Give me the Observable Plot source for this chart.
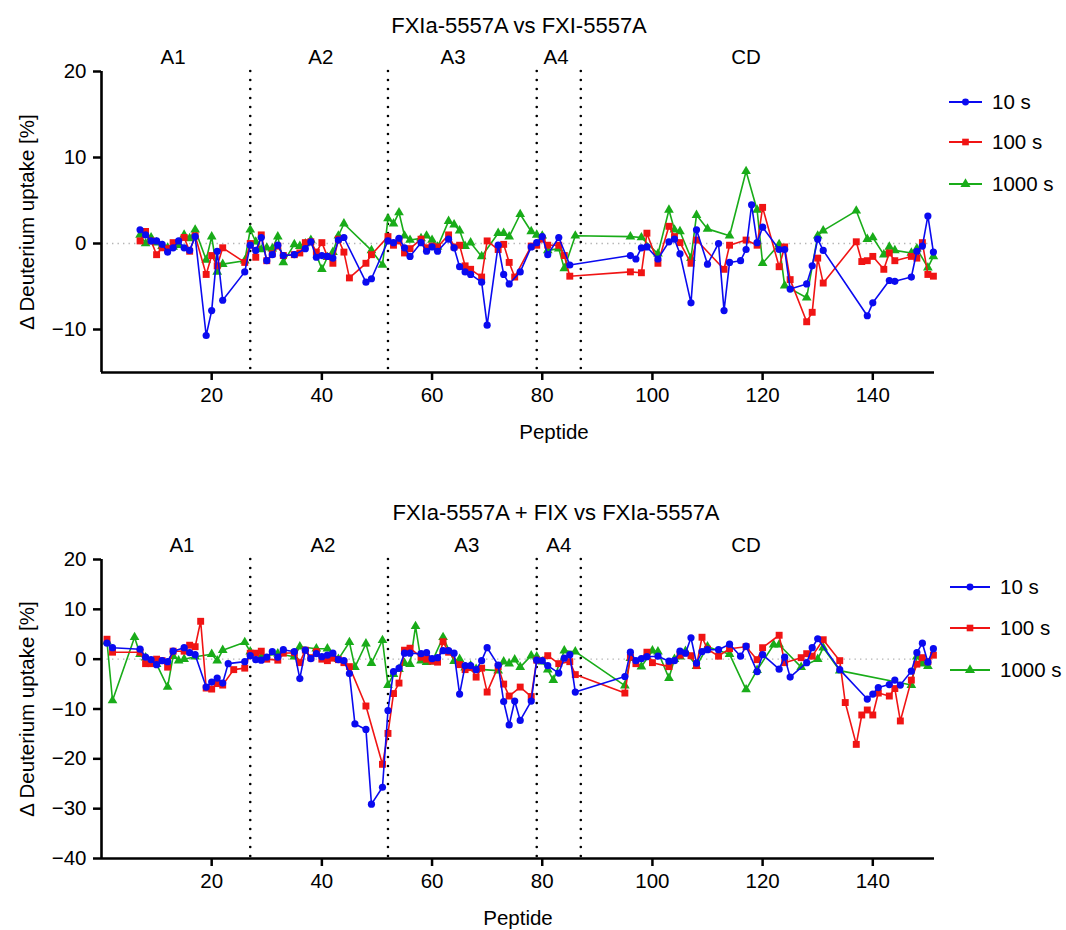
<!DOCTYPE html>
<html>
<head>
<meta charset="utf-8">
<script src="https://cdn.jsdelivr.net/npm/d3@7"></script>
<script src="https://cdn.jsdelivr.net/npm/@observablehq/plot@0.6"></script>
<style>
  html, body { margin: 0; padding: 0; background: #fff; }
  #chart { width: 1066px; height: 930px; position: relative; }
  #chart svg { display: block; }
  svg g[aria-label^="x-axis"] line, svg g[aria-label^="x-axis"] path,
  svg g[aria-label^="y-axis"] line, svg g[aria-label^="y-axis"] path { stroke-width: 2.5px; }
</style>
</head>
<body>
<div id="chart"></div>
<script>
// ---------- data ----------
const seriesLabels = ["10 s", "100 s", "1000 s"];
const seriesColors = ["#0a0af0", "#f01414", "#19ac19"];
const regionNames = ["A1", "A2", "A3", "A4", "CD"];
const regionBounds = [27, 52, 79, 87];
const topRegionX = [13, 39.8, 63.8, 82.5, 117];
const botRegionX = [14.6, 40.2, 66.3, 83, 117];
const xTicks = [20, 40, 60, 80, 100, 120, 140];
const topYTicks = [-10, 0, 10, 20];
const botYTicks = [-40, -30, -20, -10, 0, 10, 20];
const topTitle = "FXIa-5557A vs FXI-5557A";
const botTitle = "FXIa-5557A + FIX vs FXIa-5557A";
const xTitle = "Peptide";
const yTitle = "Δ Deuterium uptake [%]";

const topPeptide = [
  7, 8, 9, 10, 11, 12, 13, 14, 15, 16, 17,
  19, 20, 21, 22,
  26, 27, 28, 29, 30, 31, 32, 33,
  35, 36, 37, 38, 39, 40, 41, 42, 43, 44, 45,
  48, 49,
  51, 52, 53, 54, 55, 56,
  58, 59, 60, 61,
  63, 64, 65, 66, 67,
  69, 70,
  72, 73, 74, 75, 76,
  78, 79, 80, 81,
  83, 84, 85, 86,
  96, 97, 98, 99,
  101,
  103, 104, 105,
  107, 108,
  110,
  112, 113, 114,
  116, 117, 118, 119, 120,
  123, 124, 125,
  128, 129, 130, 131,
  137, 138, 139, 140,
  142, 143, 144,
  147, 148, 149, 150, 151
];
const top10 = [
  1.6, 1.0, 0.3, 0.3, -0.1, -1.0, -0.5, 0.3, -0.5, -0.8, 0.8,
  -10.7, -7.8, -0.9, -6.6,
  -3.3, -0.2, -0.8, 0.7, -2.0, -1.3, -0.2, -1.4,
  -1.3, null, -0.6, 0.2, -1.6, -1.4, -1.5, -1.7, 0.4, 0.7, null,
  -4.5, -4.1,
  null, 0.3, 0.1, 0.6, -0.5, -1.5,
  0.1, -0.9, -0.4, -0.9,
  0.5, -0.5, -2.7, -3.3, -3.6,
  -4.5, -9.5,
  -0.2, -3.6, -4.7, null, -3.3,
  -0.4, 0.1, 0.8, -1.3,
  0.7, null, -2.5, null,
  -1.4, -1.8, -0.5, -0.4,
  -1.8,
  0.2, 0.5, -1.2,
  -6.9, 1.6,
  -2.4,
  0.0, -7.8, -2.2,
  -2.0, -0.7, 4.5, 0.1, 1.9,
  -0.7, -0.7, -5.3,
  -4.7, -2.6, 0.5, -0.8,
  null, null, -8.4, -6.9,
  null, -4.3, -4.4,
  -3.9, -0.9, -0.3, 3.2, -1.0
];
const top100 = [
  0.3, 1.4, 0.3, -1.3, -0.5, -0.6, 0.1, null, 0.7, -0.9, 0.9,
  -3.6, -1.4, -2.6, -0.5,
  -2.2, 0.0, -1.6, 1.0, -2.0, -1.2, -0.3, -1.4,
  -1.3, -1.1, 0.1, 0.2, -1.0, 0.1, -1.5, -2.3, 0.5, -1.0, -4.0,
  -2.3, -1.3,
  null, 0.8, -0.2, 0.3, -1.1, -0.6,
  0.5, -0.5, -0.3, -0.4,
  1.0, -0.4, -0.2, -2.6, -3.0,
  -3.9, 0.3,
  -0.7, -0.1, -2.2, -3.9, null,
  -0.3, -0.2, 0.5, -0.2,
  -0.2, -1.4, -3.8, null,
  -3.3, null, -3.4, 1.2,
  -2.3,
  2.0, 0.8, 0.1,
  -2.3, 0.4,
  null,
  null, -3.0, -0.2,
  null, 0.4, null, -0.2, 4.2,
  -2.7, -0.4, -4.2,
  -9.1, -8.0, -1.7, -4.6,
  0.2, -2.1, -2.0, -1.5,
  -3.0, -1.1, -2.0,
  -1.5, -1.7, 0.1, -3.6, -3.8
];
const top1000 = [
  1.0, 0.0, 0.7, 0.1, -0.3, -0.5, -0.4, -0.2, 1.0, 0.6, 1.6,
  -1.9, 0.8, -3.3, -2.4,
  -2.0, 1.6, 0.2, -0.7, -0.5, -0.6, 0.8, -2.2,
  -0.1, -0.3, 0.0, 0.4, null, -3.0, -1.6, -1.0, 0.9, 2.3, null,
  null, -0.8,
  -2.5, 2.9, 2.3, 3.6, 0.9, 0.4,
  0.6, 0.9, 0.4, -0.4,
  2.6, 2.2, 1.5, -0.3, 0.1,
  -1.5, null,
  1.2, 1.2, 0.8, null, 3.4,
  1.4, 1.0, 0.9, -0.8,
  -0.6, -2.9, null, 0.9,
  0.8, null, 0.7, null,
  -1.2,
  3.9, 1.6, 1.4,
  -1.7, 3.3,
  1.7,
  null, null, 0.9,
  null, 8.4, null, 3.9, -2.3,
  -0.1, -4.9, null,
  -6.3, null, 0.9, 1.5,
  3.8, null, 0.5, 0.7,
  -1.3, -0.4, -0.8,
  -1.1, -0.6, null, -2.8, -1.5
];

const botPeptide = [
  1, 2, 6,
  7, 8, 9, 10, 11, 12, 13, 14, 15, 16, 17, 18, 19, 20, 21, 22, 23, 24,
  26, 27, 28, 29, 30, 31, 32, 33,
  35, 36, 37, 38, 39, 40, 41, 42, 43, 44, 45, 46,
  48, 49,
  51, 52, 53, 54, 55, 56, 57, 58, 59, 60, 61, 62, 63, 64, 65, 66, 67, 68, 69, 70,
  72, 73, 74, 75, 76,
  78, 79, 80, 81, 82, 83, 84, 85, 86,
  95, 96, 97, 98, 99, 100, 101,
  103, 104, 105, 106, 107, 108, 109, 110,
  112, 114, 116, 117,
  119, 120, 122, 123, 124, 125,
  127, 128, 129, 130, 131,
  134, 135,
  137, 138, 139, 140, 141,
  143, 144, 145,
  147, 148, 149, 150, 151
];
const bot10 = [
  3.2, 2.3, null,
  2.0, 0.4, -0.1, -1.1, -0.3, -0.5, 1.6, null, 2.3, 1.3, 0.9, null, -5.6, -4.6, -3.8, -4.8, -0.9, null,
  -0.5, 0.7, -0.1, -0.2, 0.4, 1.5, 0.4, 1.9,
  1.5, -3.9, 1.8, 0.1, 1.1, 0.5, 0.8, 1.2, -0.1, -0.3, -2.9, -13.0,
  -14.1, -29.1,
  -25.7, -10.3, -2.5, -1.8, 1.2, 1.2, null, 1.1, 1.3, 0.1, 0.3, 1.7, 1.7, 1.2, -7.0, -1.3, -1.3, -2.1, -0.3, 2.3,
  -1.2, -8.5, -13.2, -8.4, -12.3,
  -8.4, -0.2, -0.3, -1.3, null, -2.8, 0.2, 0.9, -6.6,
  -3.5, 1.4, -0.3, 0.1, 0.5, null, 0.6,
  -0.4, -0.3, 1.6, 1.2, 4.3, -0.8, 1.5, 1.9,
  1.9, 3.0, 0.6, 2.6,
  -2.5, 0.9, null, -2.0, 0.4, -3.6,
  null, -0.7, 2.3, 4.1, null,
  -2.1, null,
  null, null, -8.0, -7.0, -5.7,
  -5.1, -4.2, -5.2,
  -2.4, 1.3, 3.2, -0.6, 2.1
];
const bot100 = [
  4.0, 1.4, null,
  1.4, -0.9, -0.9, 0.0, -0.3, -1.6, 1.6, null, 1.6, 2.8, 2.5, 7.6, -5.8, -6.0, -4.9, -5.2, null, -2.1,
  -1.8, 1.2, 1.2, 1.6, 0.0, null, -0.2, 1.2,
  1.3, -0.7, 1.8, 0.3, 1.5, 0.0, -0.3, 0.2, -0.1, -0.7, -1.5, null,
  -9.4, null,
  -21.1, -14.9, -6.9, -4.8, 1.8, 2.2, null, 0.4, 0.0, -0.4, -0.6, 3.5, 1.4, null, -1.1, -2.1, -1.7, -3.6, -1.8, -6.6,
  -1.5, -5.0, -7.4, null, -5.6,
  -7.5, -0.2, null, 0.7, null, -0.9, null, -0.5, -3.1,
  -6.8, 0.4, -0.9, null, 1.4, -0.7, null,
  -1.5, null, 0.8, null, 0.7, -1.3, 4.4, 2.0,
  0.6, 2.1, null, 2.5,
  -0.1, 2.3, null, 4.8, -0.7, null,
  0.3, 1.1, 0.6, null, 3.9,
  -0.3, -8.7,
  -17.1, -11.2, -10.2, -11.2, -6.8,
  -7.4, -5.9, -12.4,
  -4.2, -1.0, 0.3, -0.5, 0.8
];
const bot1000 = [
  3.5, -8.3, 4.4,
  1.0, 0.3, null, -1.0, null, -5.6, 0.6, -0.3, 0.0, null, 0.5, null, null, 1.0, -0.3, 1.8, null, null,
  3.4, 1.5, null, 0.5, null, null, 1.1, null,
  0.5, 2.5, null, null, 2.1, null, 2.1, null, 0.0, null, 3.4, -1.6,
  3.1, -0.8,
  3.8, -5.2, -3.0, -2.0, -0.8, -1.0, 6.6, -0.3, -0.6, -0.5, null, 4.4, null, -0.4, 0.0, -1.7, -1.3, -2.0, null, null,
  -2.3, -0.5, -0.9, -0.1, -1.6,
  0.7, 0.5, -0.5, -2.1, -4.2, null, 1.7, null, 1.5,
  -5.3, 0.2, null, -1.5, null, 1.7, 1.5,
  -3.8, 0.0, 0.5, 1.6, null, -1.4, null, 2.5,
  null, 1.0, null, -6.1,
  -2.2, null, 2.9, 2.9, null, null,
  -1.6, null, null, 0.0, 2.3,
  -2.3, null,
  null, null, null, null, null,
  null, null, null,
  -5.2, 0.5, -0.9, -1.4, null
];

// ---------- drawing ----------
const FONT = "'Liberation Sans', Arial, Helvetica, sans-serif";
const FS = 20.5;
const TITLE_FS = 22;
const symbols = ["circle", "square", "triangle"];
const d3Symbols = [d3.symbolCircle, d3.symbolSquare, d3.symbolTriangle];
const dotR = [3.6, 3.9, 3.6];

function rowsFor(pep, vals) {
  return pep.map((x, i) => ({x, y: vals[i]})).filter(d => d.y != null);
}

function panel(cfg) {
  const seriesRows = cfg.series.map(v => rowsFor(cfg.peptide, v));
  const marks = [
    Plot.ruleY([0], {stroke: "#b4b4b4", strokeWidth: 1.4, strokeDasharray: "1.4,4.1"}),
    Plot.ruleX(regionBounds, {stroke: "#000", strokeWidth: 2.6, strokeDasharray: "0,9", strokeLinecap: "round"})
  ];
  for (const i of [2, 1, 0]) {
    marks.push(Plot.line(seriesRows[i], {x: "x", y: "y", stroke: seriesColors[i], strokeWidth: 1.6}));
    marks.push(Plot.dot(seriesRows[i], {x: "x", y: "y", symbol: symbols[i], fill: seriesColors[i], stroke: "none", r: dotR[i]}));
  }
  marks.push(
    Plot.ruleX([0], {stroke: "#000", strokeWidth: 2.6}),
    Plot.ruleY([cfg.yDomain[0]], {stroke: "#000", strokeWidth: 2.6}),
    Plot.text(regionNames, {x: cfg.regionX, frameAnchor: "top", lineAnchor: "middle", dy: cfg.regionDy, fontSize: FS}),
    Plot.text([cfg.title], {frameAnchor: "top", lineAnchor: "middle", dy: cfg.titleDy, dx: cfg.titleDx, fontSize: TITLE_FS}),
    Plot.text([xTitle], {frameAnchor: "bottom", lineAnchor: "middle", dy: 60, dx: cfg.xTitleDx, fontSize: FS}),
    Plot.text([yTitle], {frameAnchor: "left", textAnchor: "middle", lineAnchor: "middle", dx: -74, rotate: -90, fontSize: FS})
  );
  const svg = Plot.plot({
    width: 1066,
    height: cfg.height,
    marginLeft: 101,
    marginRight: 132,
    marginTop: cfg.marginTop,
    marginBottom: cfg.marginBottom,
    style: {fontFamily: FONT, fontSize: FS + "px", background: "#fff", color: "#000", overflow: "visible"},
    x: {domain: [0, 151.2], ticks: xTicks, tickSize: 8, tickPadding: 7, label: null},
    y: {domain: cfg.yDomain, ticks: cfg.yTicks, tickSize: 8, tickPadding: 7, label: null},
    marks
  });
  // legend
  const g = d3.select(svg).append("g").attr("class", "legend");
  seriesLabels.forEach((lab, i) => {
    const y = cfg.legendY[i];
    g.append("line").attr("x1", cfg.legendX[0]).attr("x2", cfg.legendX[1])
      .attr("y1", y).attr("y2", y).attr("stroke", seriesColors[i]).attr("stroke-width", 1.8);
    g.append("path").attr("d", d3.symbol(d3Symbols[i], i === 0 ? 38 : 44)())
      .attr("transform", `translate(${(cfg.legendX[0] + cfg.legendX[1]) / 2},${y})`)
      .attr("fill", seriesColors[i]);
    g.append("text").attr("x", cfg.legendX[2]).attr("y", y).attr("dy", "0.36em")
      .attr("text-anchor", "start")
      .attr("fill", "#000").style("font-size", FS + "px").style("font-family", FONT).text(lab);
  });
  return svg;
}

const root = document.getElementById("chart");
root.appendChild(panel({
  peptide: topPeptide, series: [top10, top100, top1000],
  yDomain: [-15, 20], yTicks: topYTicks, height: 460, marginTop: 71, marginBottom: 88,
  regionX: topRegionX, regionDy: -14, title: topTitle, titleDy: -46, titleDx: 1, xTitleDx: 36,
  legendY: [102, 142, 184], legendX: [949, 982, 992]
}));
root.appendChild(panel({
  peptide: botPeptide, series: [bot10, bot100, bot1000],
  yDomain: [-40, 20], yTicks: botYTicks, height: 470, marginTop: 99, marginBottom: 72,
  regionX: botRegionX, regionDy: -14, title: botTitle, titleDy: -47, titleDx: 38, xTitleDx: 0,
  legendY: [127, 168, 210], legendX: [950, 990, 1000]
}));
</script>
</body>
</html>
